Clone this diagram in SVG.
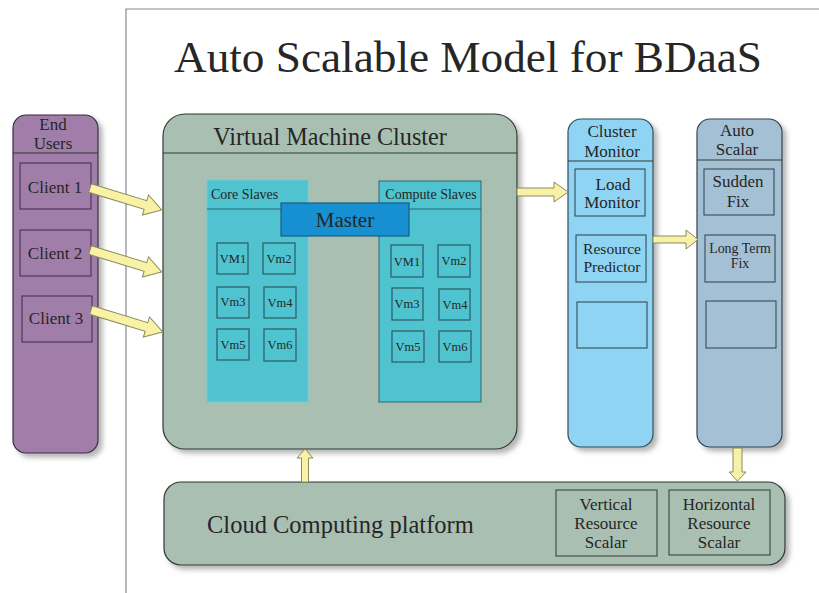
<svg xmlns="http://www.w3.org/2000/svg" width="819" height="593" viewBox="0 0 819 593">
<style>
text{font-family:"Liberation Serif","Times New Roman",serif;fill:#262626}
.lbl{text-anchor:middle}
.frame{stroke:#8a8a8a;stroke-width:1.2;fill:none}
.users{fill:#a07ea9;stroke:#3d2b45;stroke-width:1.2}
.client{fill:#a07ea9;stroke:#3d2b45;stroke-width:1}
.green{fill:#a9bfb1;stroke:#2e3b33;stroke-width:1.2}
.cyan{fill:#4fc3cf;stroke:#2c6670;stroke-width:1}
.vm{fill:#4fc3cf;stroke:#2c5a63;stroke-width:1.2}
.master{fill:#1790d2;stroke:#1d5a86;stroke-width:1.2}
.cm{fill:#8fd5f3;stroke:#2f4d5c;stroke-width:1.2}
.as{fill:#a4c0d4;stroke:#2f4350;stroke-width:1.2}
.inner{fill:none;stroke:#2f3f47;stroke-width:1}
.sub{fill:none;stroke:#2e3b33;stroke-width:1}
.hl{stroke:#2e3b33;stroke-width:1}
.arrow{fill:#f8f2a6;stroke:#8c8a5c;stroke-width:1}
.sh{filter:url(#shadow)}
</style>
<defs>
<filter id="shadow" x="-10%" y="-10%" width="130%" height="130%">
<feDropShadow dx="4" dy="4" stdDeviation="2.5" flood-color="#7a7a7a" flood-opacity="0.55"/>
</filter>
<polygon id="diag" points="0,-4.5 58,-4.5 58,-10.5 75,0 58,10.5 58,4.5 0,4.5"/>
</defs>
<rect width="819" height="593" fill="#ffffff"/>
<g id="frame">
<polyline class="frame" points="126,593 126,9 819,9"/>
<text x="468" y="72" class="lbl" font-size="44" textLength="588" lengthAdjust="spacingAndGlyphs">Auto Scalable Model for BDaaS</text>
</g>
<g id="end-users">
<rect class="users sh" x="13" y="115" width="85" height="338" rx="13"/>
<line class="hl" x1="13" y1="153" x2="98" y2="153" stroke="#3d2b45"/>
<text x="53" y="130" class="lbl" font-size="17">End</text>
<text x="53" y="149" class="lbl" font-size="17">Users</text>
</g>
<g id="client1">
<rect class="client" x="20" y="163" width="71" height="46"/>
<text x="55" y="193" class="lbl" font-size="17">Client 1</text>
</g>
<g id="client2">
<rect class="client" x="20" y="230" width="71" height="46"/>
<text x="55" y="259" class="lbl" font-size="17">Client 2</text>
</g>
<g id="client3">
<rect class="client" x="22" y="296" width="70" height="46"/>
<text x="56" y="324" class="lbl" font-size="17">Client 3</text>
</g>
<g id="vm-cluster">
<rect class="green sh" x="163" y="114" width="354" height="335" rx="22"/>
<line class="hl" x1="163" y1="153" x2="517" y2="153"/>
<text x="330" y="145" class="lbl" font-size="24.2">Virtual Machine Cluster</text>
</g>
<g id="core-slaves">
<rect x="207" y="180" width="101" height="222" fill="#4fc3cf" stroke="#6ccfd8" stroke-width="1"/>
<line x1="207" y1="209" x2="308" y2="209" stroke="#2c6670" stroke-width="1"/>
<text x="211" y="199" font-size="14" fill="#1d3f4a">Core Slaves</text>
</g>
<g id="compute-slaves">
<rect class="cyan" x="379" y="181" width="102" height="221"/>
<line x1="379" y1="209" x2="481" y2="209" stroke="#2c6670" stroke-width="1"/>
<text x="431" y="199" class="lbl" font-size="14" fill="#1d3f4a">Compute Slaves</text>
</g>
<g id="master">
<rect class="master" x="281" y="203" width="128" height="33"/>
<text x="345" y="227" class="lbl" font-size="21" fill="#1b2f40">Master</text>
</g>
<g id="core-vm1"><rect class="vm" x="217" y="243" width="31" height="31"/><text x="233" y="263" class="lbl" font-size="12.5" fill="#2b3c44">VM1</text></g>
<g id="core-vm2"><rect class="vm" x="263" y="243" width="32" height="31"/><text x="279" y="263" class="lbl" font-size="12.5" fill="#2b3c44">Vm2</text></g>
<g id="core-vm3"><rect class="vm" x="217" y="287" width="32" height="31"/><text x="233" y="306" class="lbl" font-size="12.5" fill="#2b3c44">Vm3</text></g>
<g id="core-vm4"><rect class="vm" x="264" y="287" width="32" height="31"/><text x="280" y="307" class="lbl" font-size="12.5" fill="#2b3c44">Vm4</text></g>
<g id="core-vm5"><rect class="vm" x="217" y="329" width="32" height="31"/><text x="233" y="349" class="lbl" font-size="12.5" fill="#2b3c44">Vm5</text></g>
<g id="core-vm6"><rect class="vm" x="264" y="329" width="32" height="32"/><text x="280" y="349" class="lbl" font-size="12.5" fill="#2b3c44">Vm6</text></g>
<g id="comp-vm1"><rect class="vm" x="391" y="245" width="32" height="32"/><text x="407" y="266" class="lbl" font-size="12.5" fill="#2b3c44">VM1</text></g>
<g id="comp-vm2"><rect class="vm" x="438" y="245" width="32" height="32"/><text x="454" y="265" class="lbl" font-size="12.5" fill="#2b3c44">Vm2</text></g>
<g id="comp-vm3"><rect class="vm" x="392" y="288" width="31" height="32"/><text x="407" y="308" class="lbl" font-size="12.5" fill="#2b3c44">Vm3</text></g>
<g id="comp-vm4"><rect class="vm" x="439" y="289" width="31" height="31"/><text x="455" y="309" class="lbl" font-size="12.5" fill="#2b3c44">Vm4</text></g>
<g id="comp-vm5"><rect class="vm" x="392" y="331" width="32" height="31"/><text x="408" y="351" class="lbl" font-size="12.5" fill="#2b3c44">Vm5</text></g>
<g id="comp-vm6"><rect class="vm" x="439" y="331" width="32" height="31"/><text x="455" y="351" class="lbl" font-size="12.5" fill="#2b3c44">Vm6</text></g>
<g id="cluster-monitor">
<rect class="cm sh" x="568" y="119" width="85" height="328" rx="13"/>
<line class="hl" x1="568" y1="161" x2="653" y2="161"/>
<text x="612" y="137" class="lbl" font-size="17">Cluster</text>
<text x="612" y="157" class="lbl" font-size="17">Monitor</text>
</g>
<g id="load-monitor">
<rect class="inner" x="575" y="169" width="70" height="47"/>
<text x="613" y="190" class="lbl" font-size="17">Load</text>
<text x="612" y="208" class="lbl" font-size="17">Monitor</text>
</g>
<g id="resource-predictor">
<rect class="inner" x="576" y="235" width="70" height="47"/>
<text x="612" y="254" class="lbl" font-size="15.6">Resource</text>
<text x="612" y="272" class="lbl" font-size="15.6">Predictor</text>
</g>
<g id="cm-empty"><rect class="inner" x="577" y="302" width="70" height="46"/></g>
<g id="auto-scalar">
<rect class="as sh" x="697" y="119" width="85" height="328" rx="13"/>
<line class="hl" x1="697" y1="160" x2="782" y2="160"/>
<text x="737" y="136" class="lbl" font-size="17">Auto</text>
<text x="737" y="155" class="lbl" font-size="17">Scalar</text>
</g>
<g id="sudden-fix">
<rect class="inner" x="704" y="169" width="70" height="46"/>
<text x="738" y="187" class="lbl" font-size="17">Sudden</text>
<text x="738" y="207" class="lbl" font-size="17">Fix</text>
</g>
<g id="long-term-fix">
<rect class="inner" x="705" y="235" width="70" height="47"/>
<text x="740" y="253" class="lbl" font-size="13.9">Long Term</text>
<text x="740" y="268" class="lbl" font-size="13.9">Fix</text>
</g>
<g id="as-empty"><rect class="inner" x="706" y="301" width="70" height="47"/></g>
<g id="cloud-platform">
<rect class="green sh" x="164" y="482" width="621" height="83" rx="17"/>
<text x="207" y="533" font-size="24.5">Cloud Computing platform</text>
</g>
<g id="vertical-scalar">
<rect class="sub" x="556" y="490" width="101" height="66"/>
<text x="606" y="510" class="lbl" font-size="17">Vertical</text>
<text x="606" y="529" class="lbl" font-size="17">Resource</text>
<text x="606" y="548" class="lbl" font-size="17">Scalar</text>
</g>
<g id="horizontal-scalar">
<rect class="sub" x="669" y="490" width="101" height="65"/>
<text x="719" y="510" class="lbl" font-size="17">Horizontal</text>
<text x="719" y="529" class="lbl" font-size="17">Resource</text>
<text x="719" y="548" class="lbl" font-size="17">Scalar</text>
</g>
<g id="connectors">
<use href="#diag" class="arrow" transform="translate(90,188) rotate(17)"/>
<use href="#diag" class="arrow" transform="translate(90,250) rotate(17)"/>
<use href="#diag" class="arrow" transform="translate(91,310) rotate(17)"/>
<polygon class="arrow" points="517,188 554,188 554,182 568,192 554,202 554,196 517,196"/>
<polygon class="arrow" points="653,236 686,236 686,230 698,239.5 686,249 686,243 653,243"/>
<polygon class="arrow" points="301.5,482 301.5,458 297,458 305,449 313,458 308.5,458 308.5,482"/>
<polygon class="arrow" points="733,448 742,448 742,472 746,472 737.5,481 729,472 733,472"/>
</g>
</svg>
